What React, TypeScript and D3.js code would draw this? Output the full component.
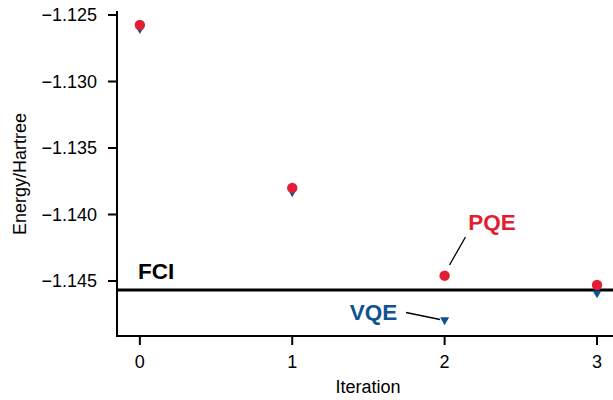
import React from "react";
import * as d3 from "d3";

const iterations = [0, 1, 2, 3];
const pqe = [-1.12575, -1.1380, -1.1446, -1.1453];
const vqe = [-1.1261, -1.13838, -1.1480, -1.14598];
const fci = -1.14568;
const yTicks = [-1.125, -1.13, -1.135, -1.14, -1.145];
const xTicks = [0, 1, 2, 3];

const RED = "#e21f32";
const BLUE = "#0f5290";
const FONT = "'Liberation Sans', Arial, Helvetica, sans-serif";

export default function App() {
  const W = 613, H = 400;
  const left = 117, right = 613, top = 11, bottom = 336;
  const x = d3.scaleLinear().domain([-0.15, 3.105]).range([left, right]);
  const y = d3.scaleLinear().domain([-1.125, -1.145]).range([15, 281]);
  const fmt = (v: number) => d3.format(".3f")(v).replace("-", "\u2212");
  const tri = d3.symbol().type(d3.symbolTriangle).size(36)();
  return (
    <svg width={W} height={H} style={{ position: "absolute", left: 0, top: 0, fontFamily: FONT }}>
      <rect width={W} height={H} fill="#fff" />
      {/* FCI line */}
      <line x1={left} x2={right} y1={y(fci)} y2={y(fci)} stroke="#000" strokeWidth={3} />
      <text x={138} y={y(fci) - 11} fontSize={22.5} fontWeight="bold" fill="#000">FCI</text>
      {/* axes */}
      <line x1={left} x2={left} y1={top} y2={bottom + 1} stroke="#000" strokeWidth={2} />
      <line x1={left - 1} x2={right} y1={bottom} y2={bottom} stroke="#000" strokeWidth={2} />
      {yTicks.map((t) => (
        <g key={t}>
          <line x1={left - 9} x2={left} y1={y(t)} y2={y(t)} stroke="#000" strokeWidth={2} />
          <text x={left - 20} y={y(t)} dy="0.35em" textAnchor="end" fontSize={18} fill="#000">{fmt(t)}</text>
        </g>
      ))}
      {xTicks.map((t) => (
        <g key={t}>
          <line x1={x(t)} x2={x(t)} y1={bottom} y2={bottom + 9} stroke="#000" strokeWidth={2} />
          <text x={x(t)} y={bottom + 26} dy="0.35em" textAnchor="middle" fontSize={18} fill="#000">{t}</text>
        </g>
      ))}
      <text x={368} y={387} dy="0.35em" textAnchor="middle" fontSize={18} fill="#000">Iteration</text>
      <text transform={`translate(20,174) rotate(-90)`} dy="0.35em" textAnchor="middle" fontSize={18} fill="#000">Energy/Hartree</text>
      {/* data */}
      {iterations.map((it, i) => (
        <path key={"v" + it} d={tri} transform={`translate(${x(it)},${y(vqe[i]) - 1}) rotate(180)`} fill={BLUE} />
      ))}
      {iterations.map((it, i) => (
        <circle key={"p" + it} cx={x(it)} cy={y(pqe[i])} r={5.2} fill={RED} />
      ))}
      {/* annotations */}
      <line x1={465.5} y1={237} x2={449.5} y2={265} stroke="#000" strokeWidth={1.3} />
      <text x={492} y={222} dy="0.35em" textAnchor="middle" fontSize={22.5} fontWeight="bold" fill={RED}>PQE</text>
      <line x1={406} y1={312.5} x2={440} y2={319.5} stroke="#000" strokeWidth={1.3} />
      <text x={373.5} y={312} dy="0.35em" textAnchor="middle" fontSize={22.5} fontWeight="bold" fill={BLUE}>VQE</text>
    </svg>
  );
}
